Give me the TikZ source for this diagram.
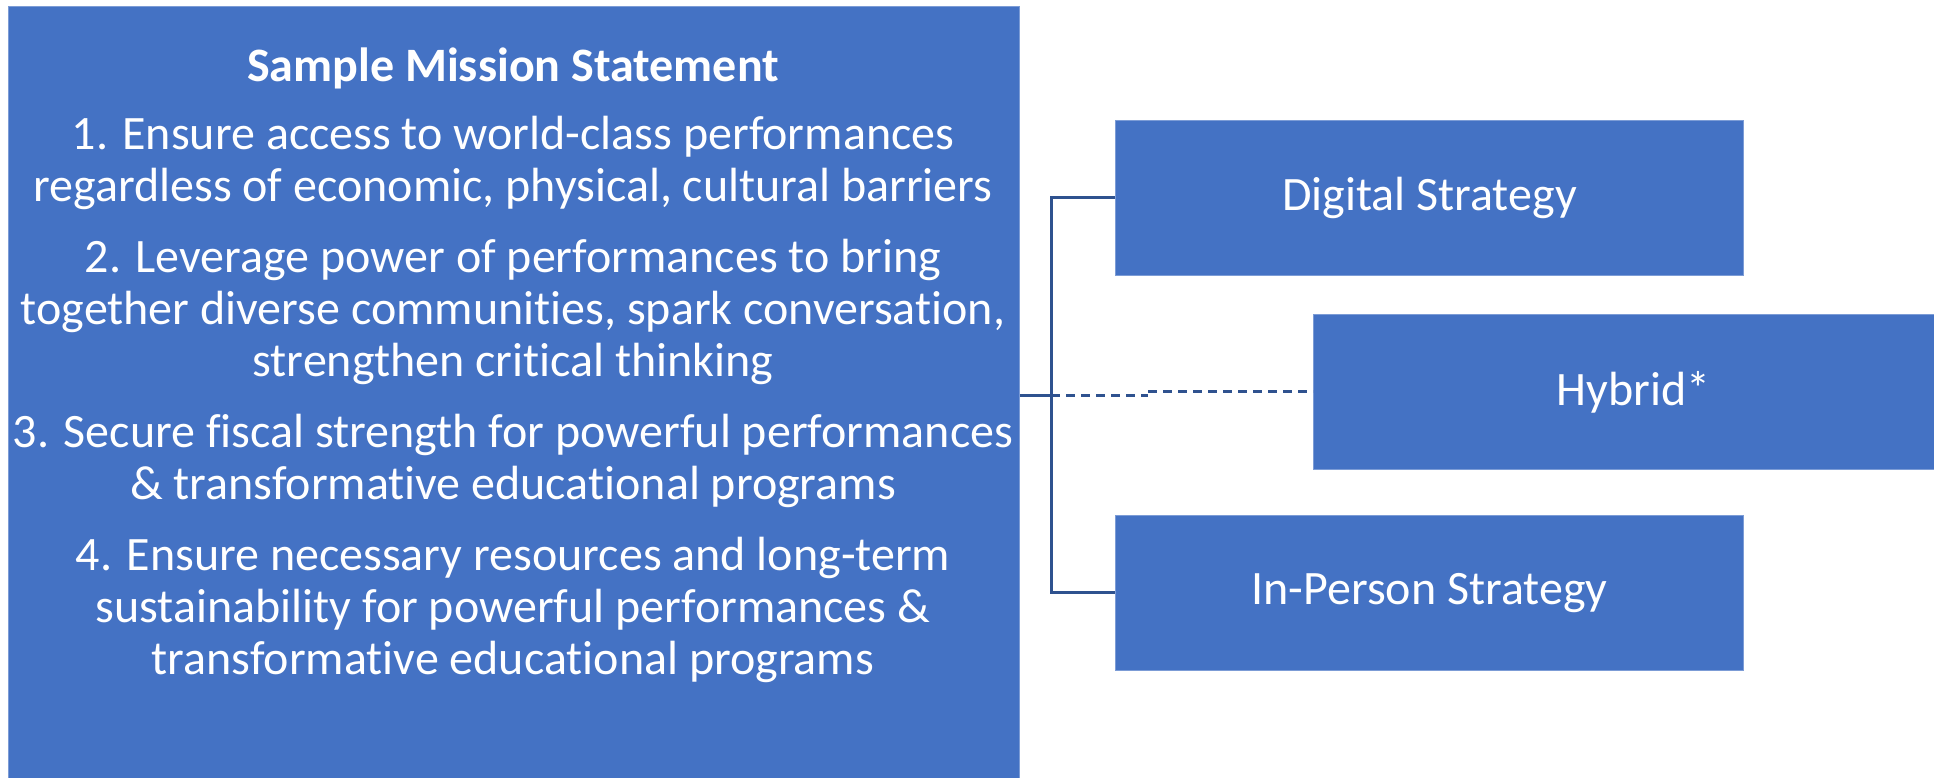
\documentclass[tikz,border=0pt]{standalone}
\usepackage{fontspec}
\setmainfont{Carlito}[Ligatures=NoCommon]
\usepackage{xcolor}
\usetikzlibrary{positioning}
\definecolor{officeblue}{HTML}{4472C4}
\definecolor{linkblue}{HTML}{2F528F}

\begin{document}
\begin{tikzpicture}[x=1pt, y=-1pt]
        \tikzset{
          panel/.style={rectangle, fill=officeblue, draw=officeblue!70!white, line width=0.8pt, inner sep=0pt, anchor=north west},
          lbl/.style={text=white, font=\fontsize{48}{52}\selectfont, inner sep=0pt, align=center},
          link/.style={draw=linkblue, line width=3pt},
          dashlink/.style={draw=linkblue, line width=3pt, dash pattern=on 9pt off 6pt}
        }
        \useasboundingbox[fill=white] (0,0) rectangle (1934,777);

        % — mission panel —
        \node[panel, minimum width=1011pt, minimum height=772pt] (mission) at (8,6) {};
        \node[lbl, font=\fontsize{48}{52}\selectfont\bfseries] (title) at (513,68) {Sample Mission Statement};
        \node[lbl] (goals) at (513,399) {%
          1. Ensure access to world-class performances\\
          regardless of economic, physical, cultural barriers\\[19pt]
          2. Leverage power of performances to bring\\
          together diverse communities, spark conversation,\\
          strengthen critical thinking\\[19pt]
          3. Secure fiscal strength for powerful performances\\
          \& transformative educational programs\\[19pt]
          4. Ensure necessary resources and long-term\\
          sustainability for powerful performances \&\\
          transformative educational programs};

        % — strategy panels —
        \node[panel, minimum width=628pt, minimum height=155pt] (digital) at (1115,120) {};
        \node[lbl] at (digital.center) {Digital Strategy};
        \node[panel, minimum width=640pt, minimum height=155pt] (hybrid) at (1313,314) {};
        \node[lbl] at (hybrid.center) {Hybrid*};
        \node[panel, minimum width=628pt, minimum height=155pt] (inperson) at (1115,515) {};
        \node[lbl] at (inperson.center) {In-Person Strategy};

        % — bracket from mission to strategies —
        \coordinate (fork) at (1051,395);
        \draw[link] (digital.west) -- (fork |- digital.west) -- (fork |- inperson.west) -- (inperson.west);
        \draw[link] (mission.east |- fork) -- (fork);
        \draw[dashlink] (fork) -- ++(97,0) coordinate (jog);
        \draw[dashlink] (jog |- hybrid.west) -- (hybrid.west);
\end{tikzpicture}
\end{document}
